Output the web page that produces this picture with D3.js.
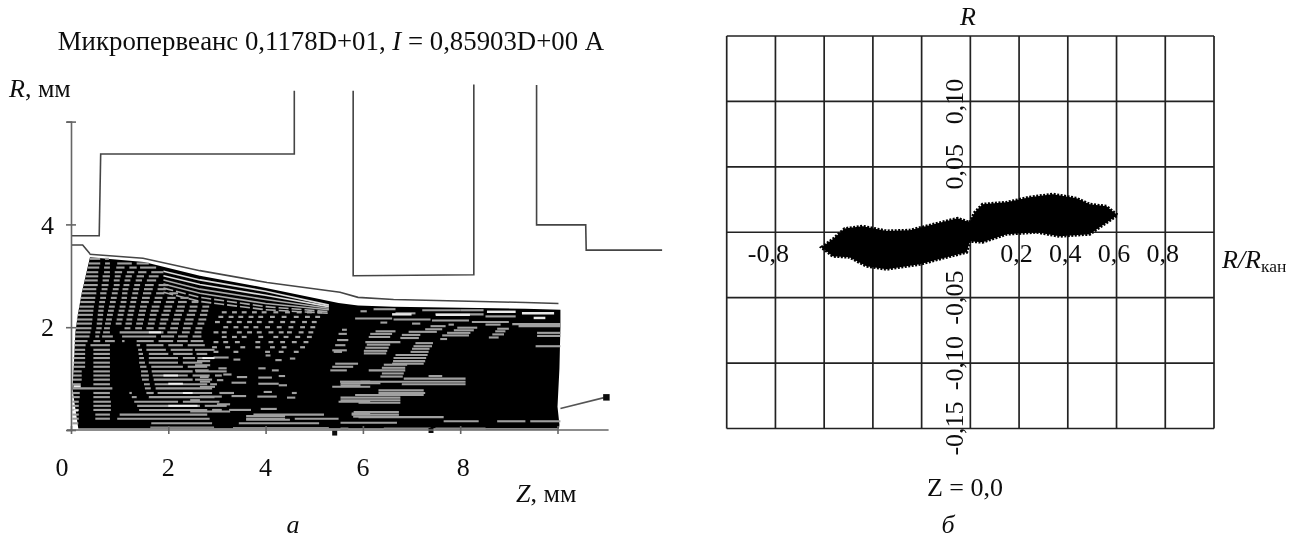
<!DOCTYPE html>
<html><head><meta charset="utf-8"><script src="https://cdn.jsdelivr.net/npm/d3@7"></script>
<style>html,body{margin:0;background:#fff}svg{display:block}text{font-family:"Liberation Serif",serif;fill:#111}</style></head>
<body><svg id="c" width="1296" height="538"><defs><filter id="soft" x="-5%" y="-5%" width="110%" height="110%"><feGaussianBlur stdDeviation="0.4"/></filter></defs></svg>
<script>
// ---- panel a: electrodes [z, R]
const focusElectrode=[[0,3.78],[.58,3.78],[.61,5.37],[4.59,5.37],[4.59,6.6]];
const cathodeEdge=[[0,3.6],[.24,3.6],[.39,3.43]];
const anodeElectrode=[[5.8,6.6],[5.8,3.0],[8.28,3.02],[8.28,6.72]];
const collectorElectrode=[[9.57,6.71],[9.57,3.99],[10.58,3.99],[10.59,3.5],[12.15,3.5]];
const beamOuter=[[.38,3.42],[1.48,3.34],[2.65,3.1],[4.03,2.87],[5.53,2.68],[5.9,2.58],[6.63,2.54],[9.34,2.48],[10.02,2.46]];
const beamMass=[[.15,.03],[.03,.8],[.06,1.3],[.09,1.9],[.14,2.24],[.22,2.66],[.3,2.99],[.39,3.36],[1.5,3.27],[2.65,3.0],[4.03,2.76],[5.5,2.47],[5.9,2.42],[6.63,2.4],[9.34,2.36],[10.06,2.34],[10.06,2.0],[10.04,1.2],[10.0,.45],[10.04,.1],[10.03,.03]];
const beamLead=[[10.06,.42],[11,.64]];
const leadMarker=[[11,.64]];
const stubs=[[5.42,-.05],[7.4,.0]];
const envelopeZ=[1.9,2.65,4.0,5.3];
const envelopeR=[[3.09,2.92,2.70,2.43],[3.0,2.83,2.62,2.40],[2.92,2.74,2.54,2.37],[2.84,2.66,2.46,2.34],[2.76,2.58,2.40,2.30],[2.68,2.5,2.34,2.27]];
// rows of lighter stripes in the fan: R, then z-intervals
const fanRows=[
[3.33,[[.39,.6],[.7,.78]]],
[3.24,[[.37,.6],[.7,.8],[.95,1.25],[1.35,1.6]]],
[3.16,[[.35,.58],[.68,.8],[.93,1.1],[1.2,1.35],[1.42,1.75]]],
[3.07,[[.32,.56],[.68,.8],[.9,1.05],[1.15,1.3],[1.38,1.55],[1.65,1.9]]],
[2.99,[[.3,.56],[.65,.8],[.9,1.02],[1.12,1.25],[1.35,1.5],[1.6,1.8]]],
[2.91,[[.28,.55],[.65,.78],[.88,1.0],[1.1,1.22],[1.33,1.46],[1.56,1.75]]],
[2.82,[[.26,.55],[.63,.77],[.88,1.0],[1.08,1.2],[1.3,1.42],[1.52,1.7],[1.8,2.0]]],
[2.74,[[.24,.52],[.63,.75],[.86,.98],[1.06,1.18],[1.28,1.4],[1.5,1.68],[1.78,1.95]]],
[2.66,[[.22,.52],[.6,.73],[.84,.96],[1.05,1.16],[1.26,1.38],[1.48,1.65],[1.75,1.92],[2.02,2.2]]],
[2.57,[[.2,.5],[.6,.72],[.82,.94],[1.04,1.15],[1.24,1.36],[1.46,1.62],[1.72,1.88],[1.98,2.15],[2.25,2.42]]],
[2.49,[[.19,.49],[.58,.7],[.8,.92],[1.02,1.14],[1.22,1.34],[1.44,1.6],[1.7,1.85],[1.95,2.12],[2.2,2.38],[2.48,2.62]]],
[2.40,[[.17,.47],[.57,.68],[.78,.9],[1.0,1.12],[1.2,1.32],[1.42,1.56],[1.66,1.82],[1.92,2.08],[2.18,2.34],[2.44,2.6],[2.7,2.84]]],
[2.32,[[.15,.46],[.56,.67],[.76,.88],[.98,1.1],[1.18,1.3],[1.4,1.54],[1.64,1.8],[1.9,2.05],[2.15,2.32],[2.42,2.58],[2.68,2.82]]],
[2.24,[[.14,.45],[.55,.66],[.74,.86],[.96,1.08],[1.16,1.28],[1.38,1.52],[1.62,1.76],[1.86,2.02],[2.12,2.28],[2.38,2.55],[2.65,2.8]]],
[2.15,[[.12,.44],[.54,.65],[.72,.84],[.94,1.06],[1.14,1.26],[1.36,1.5],[1.6,1.74],[1.84,2.0],[2.1,2.25],[2.35,2.52],[2.62,2.78]]],
[2.07,[[.11,.43],[.53,.64],[.7,.82],[.92,1.04],[1.12,1.25],[1.34,1.48],[1.58,1.72],[1.82,1.96],[2.06,2.22],[2.32,2.5],[2.6,2.74]]],
[1.98,[[.1,.42],[.52,.63],[.68,.8],[1.1,1.22],[1.32,1.46],[1.55,1.7],[1.8,1.94],[2.04,2.2],[2.3,2.46],[2.56,2.7]]],
[1.90,[[.09,.4],[.5,.6],[.66,.8],[1.0,1.9],[1.98,2.18],[2.28,2.44],[2.54,2.68]]],
[1.82,[[.08,.38],[.5,.58],[.64,.86],[1.05,1.75],[1.85,2.12],[2.2,2.4],[2.5,2.68]]],
[1.73,[[.07,.34],[.46,.6],[.7,.9],[1.05,1.1],[1.35,1.7],[1.8,2.1],[2.18,2.4],[2.46,2.72]]],
[1.65,[[.07,.3],[.4,.8],[1.35,1.42],[1.55,1.9],[2.0,2.3],[2.4,2.75]]],
[1.56,[[.06,.29],[.46,.8],[1.38,1.46],[1.55,1.95],[2.05,2.5],[2.55,2.95]]],
[1.48,[[.06,.29],[.46,.8],[1.39,1.48],[1.6,2.0],[2.1,2.5],[2.58,2.8]]],
[1.40,[[.05,.29],[.46,.8],[1.4,1.5],[1.6,2.2],[2.3,2.55],[2.6,2.75]]],
[1.31,[[.05,.29],[.46,.8],[1.4,1.52],[1.6,2.2],[2.3,2.7]]],
[1.23,[[.05,.29],[.46,.8],[1.42,1.55],[1.65,2.3],[2.4,2.8]]],
[1.14,[[.04,.22],[.46,.8],[1.44,1.58],[1.66,2.5],[2.56,3.2]]],
[1.06,[[.04,.22],[.46,.8],[1.44,1.6],[1.68,2.4],[2.5,2.85],[2.96,3.1]]],
[.98,[[.04,.22],[.46,.8],[1.46,1.6],[1.7,2.5],[2.55,2.9]]],
[.89,[[.04,.2],[.46,.8],[1.5,1.62],[1.72,2.8],[2.86,3.0]]],
[.81,[[.04,.85],[1.52,1.64],[1.74,2.9]]],
[.72,[[.03,.18],[.46,.8],[1.2,1.25],[1.55,1.7],[1.78,2.9],[3.05,3.35]]],
[.64,[[.03,.18],[.46,.8],[1.25,1.35],[1.6,2.95]]],
[.55,[[.03,.16],[.46,.82],[1.3,2.2],[2.3,3.05]]],
[.47,[[.03,.16],[.46,.82],[1.36,2.65],[2.75,3.2]]],
[.39,[[.03,.16],[.46,.82],[1.4,2.8],[2.9,3.1],[3.25,3.7]]],
[.30,[[.03,.16],[.5,.8],[1.0,2.8],[3.75,5.2]]],
[.22,[[.03,.16],[.5,.8],[.95,2.85],[3.6,4.4],[4.6,5.5]]],
[.13,[[.03,.15],[1.65,2.9],[3.45,5.1]]]
];
// bright strokes among the stripes
const brightRows=[[1.90,[[1.6,1.85]]],[1.40,[[2.7,2.95]]],[1.06,[[1.9,2.2]]],[.90,[[2.0,2.3]]],[.72,[[2.3,2.5]]],[.47,[[2.0,2.6]]],[.85,[[.05,.2]]],[.38,[[.05,.15]]]];
// dots between the crossings
const dotRowR=[2.29,2.20,2.10,2.0,1.90,1.81,1.71,1.61,1.52];
const dotRowZ=[
[3.10,3.31,3.51,3.72,3.92,4.16,4.40,4.64,4.85,5.06],
[3.03,3.24,3.44,3.65,3.85,4.09,4.33,4.58,4.81,5.02],
[2.96,3.20,3.41,3.62,3.82,4.06,4.30,4.51,4.75,4.95],
[3.13,3.34,3.55,3.75,3.99,4.23,4.47,4.71,4.92],
[2.93,3.10,3.41,3.62,3.82,4.06,4.27,4.44,4.68,4.88],
[3.10,3.31,3.51,3.85,4.16,4.37,4.61,4.85],
[2.93,3.13,3.37,3.79,4.06,4.30,4.54,4.78],
[2.90,3.17,3.48,3.79,4.09,4.33,4.71],
[2.93,3.34,3.99,4.27,4.58]];
// middle and right blocks: [z1, z2, R]
const midStripes=[[3.6,4.5,.2],[3.6,4.4,.27],[3.9,4.23,.41],[2.45,3.27,.36],[3.0,3.27,.5],[2.45,2.65,.58],[2.65,3.1,.65],[3.3,3.6,.66],[3.83,4.23,.65],[3.96,4.13,.74],[3.3,3.6,.92],[3.41,3.62,1.03],[3.85,4.13,1.02],[4.27,4.4,1.05],[3.85,4.27,.9],[4.27,4.44,.87],[2.65,2.96,.84],[2.65,2.86,.94],[2.65,2.83,1.03],[2.55,2.83,1.16],[2.55,2.86,1.26],[2.59,2.86,1.34],[2.93,3.24,1.41],[3.34,3.48,1.37],[3.85,4.0,1.2],[4.13,4.27,1.16],[4.2,4.33,1.36],[4.5,4.61,1.39],[4.0,4.1,1.45],[3.03,3.2,1.2],[3.13,3.3,1.08],[3.0,3.13,.97],[4.44,4.61,.63],[4.54,4.64,.72],[5.33,5.67,1.16],[5.37,5.8,1.23],[5.43,5.9,1.29],[5.37,5.67,1.55],[5.4,5.57,1.52],[5.43,5.64,1.65],[5.47,5.7,1.75],[5.5,5.67,1.87],[5.57,5.67,1.95],[5.37,6.15,.84],[5.53,6.15,.94],[5.5,6.15,.55],[5.77,6.15,.32],[5.8,6.15,.26]];
const rightStripes=[[6.26,6.67,1.92],[6.15,6.6,1.87],[6.12,6.56,1.81],[6.05,6.77,1.71],[6.08,6.56,1.66],[6.05,6.53,1.60],[6.02,6.5,1.54],[6.02,6.48,1.49],[7.39,7.7,2.02],[7.28,7.63,1.96],[6.94,7.52,1.91],[6.8,7.18,1.85],[6.77,7.15,1.79],[7.08,7.44,1.69],[7.04,7.42,1.63],[7.01,7.37,1.58],[6.98,7.35,1.52],[6.67,7.33,1.46],[6.63,7.3,1.40],[6.62,7.28,1.34],[6.6,7.25,1.29],[6.43,6.91,1.27],[6.39,6.87,1.21],[6.12,6.87,1.16],[6.39,6.84,1.10],[6.36,6.82,1.04],[7.35,7.63,1.05],[6.84,8.11,1.0],[5.95,8.11,.94],[5.54,6.36,.91],[6.8,8.11,.89],[5.54,5.95,.87],[6.32,7.25,.77],[6.32,7.28,.72],[5.84,7.25,.68],[5.54,6.77,.63],[5.54,6.77,.58],[5.91,6.77,.53],[5.81,6.74,.35],[5.77,6.74,.30],[5.91,7.66,.25],[5.54,6.7,.14],[7.66,8.38,.17],[8.76,9.34,.17],[9.44,10.06,.17],[7.94,8.35,1.99],[7.87,8.28,1.94],[7.73,8.21,1.89],[7.63,8.18,1.84],[7.59,7.73,1.77],[8.76,9.0,1.97],[8.72,8.93,1.92],[8.66,8.9,1.86],[8.59,8.79,1.80],[9.58,10.06,1.89],[9.58,10.06,1.83],[9.55,10.06,1.63],[9.2,10.06,2.02],[9.07,10.06,2.06],[5.84,6.6,2.17],[6.63,7.39,2.15],[7.42,8.18,2.13],[8.24,9.0,2.10],[6.36,6.5,2.09],[7.01,7.18,2.07],[8.52,8.83,2.05],[7.76,7.87,2.05],[6.22,6.67,2.35],[5.95,6.08,2.31],[6.67,7.08,2.27],[7.22,8.0,2.33],[7.49,8.48,2.25],[8.52,9.14,2.21],[8.0,8.48,2.33]];
const bottomStripes=[[1.63,2.94,.05],[3.33,5.3,.04],[5.54,5.7,.03],[6.43,7.39,.03],[7.49,8.52,.03],[8.52,10.0,.02]];
const brightStripes=[[8.55,9.14,2.3],[9.27,9.93,2.27],[9.51,9.75,2.18],[6.6,7.0,2.25],[7.5,8.2,2.24]];
// ---- axes of panel a
const zTicks=[0,2,4,6,8,10];
const rTicks=[0,2,4,6];
const zLabels=["0","2","4","6","8"];
// ---- panel b
const gridX=d3.range(-1,1.01,.2);
const gridY=[-.15,-.10,-.05,0,.05,.10,.15];
const xLabelValues=[-.8,.2,.4,.6,.8];
const xLabelTexts=["-0,8","0,2","0,4","0,6","0,8"];
const yLabelValues=[.10,.05,-.05,-.10,-.15];
const yLabelTexts=["0,10","0,05","-0,05","-0,10","-0,15"];
const spot=[[-.611,-.0115],[-.565,-.0054],[-.516,.0028],[-.442,.0046],[-.344,.0010],[-.249,.0015],[-.179,.0048],[-.097,.0086],[-.052,.0107],[-.003,.0076],[.018,.0153],[.050,.0214],[.149,.0229],[.243,.0268],[.338,.0291],[.436,.0260],[.490,.0214],[.559,.0199],[.604,.0130],[.531,.0038],[.490,-.0015],[.366,-.0031],[.272,0],[.149,-.0015],[.050,-.0076],[-.003,-.0069],[-.015,-.0153],[-.097,-.0191],[-.208,-.0245],[-.344,-.0283],[-.426,-.0260],[-.496,-.0191],[-.565,-.0183]];

const FS=26;
const svg=d3.select("#c");
const z=d3.scaleLinear([0,10],[71,557.5]);
const r=d3.scaleLinear([0,6],[430,121.6]);
const ln=d3.line(d=>z(d[0]),d=>r(d[1]));
const A=svg.append("g").attr("filter","url(#soft)");
[focusElectrode,cathodeEdge,anodeElectrode,collectorElectrode].forEach(d=>A.append("path").attr("d",ln(d)).attr("fill","none").attr("stroke","#444").attr("stroke-width",1.6));
A.append("path").attr("d",ln(beamMass)+"Z").attr("fill","#040404");
A.append("path").attr("d",ln(beamOuter)).attr("fill","none").attr("stroke","#444").attr("stroke-width",1.6);
envelopeR.forEach((row,i)=>A.append("path").datum(row).attr("d",ln(row.map((v,j)=>[envelopeZ[j],v]))).attr("fill","none").attr("stroke",i<2?"#ddd":"#aaa").attr("stroke-width",1.6).attr("stroke-dasharray",i<4?null:"10 3"));
const seg=(list,col,w)=>A.append("g").selectAll("line").data(list).join("line").attr("x1",d=>z(d[0])).attr("x2",d=>z(d[1])).attr("y1",d=>r(d[2])).attr("y2",d=>r(d[2])).attr("stroke",col).attr("stroke-width",w);
seg(fanRows.flatMap(([R,iv])=>iv.map(q=>[q[0],q[1],R])),"#a0a0a0",2.1);
seg(midStripes,"#a0a0a0",2.1);
seg(rightStripes,"#a0a0a0",2.1);
seg(bottomStripes,"#8a8a8a",2);
seg(brightRows.flatMap(([R,iv])=>iv.map(q=>[q[0],q[1],R])),"#eee",2);
seg(brightStripes,"#e8e8e8",2.4);
seg(dotRowR.flatMap((R,i)=>dotRowZ[i].map(v=>[v,v+.1,R])),"#a5a5a5",2.2);
A.append("path").attr("d",ln(beamLead)).attr("stroke","#555").attr("stroke-width",1.6).attr("fill","none");
A.selectAll("rect.m").data(leadMarker).join("rect").attr("class","m").attr("x",d=>z(d[0])-3).attr("y",d=>r(d[1])-3).attr("width",6.5).attr("height",6.5).attr("fill","#111");
A.selectAll("rect.s").data(stubs).join("rect").attr("class","s").attr("x",d=>z(d[0])-2.5).attr("y",d=>r(d[1])-2).attr("width",5).attr("height",5).attr("fill","#111");
const ax=A.append("g").attr("transform","translate(0,430)").call(d3.axisBottom(z).tickValues(zTicks).tickSize(4).tickFormat(""));
ax.select(".domain").attr("d",`M${z(0)-4},0H${z(11.05)}`);
ax.selectAll("line").attr("y1",-4);
ax.selectAll("line,.domain").attr("stroke","#666").attr("stroke-width",1.6);
const ay=A.append("g").attr("transform","translate(71,0)").call(d3.axisLeft(r).tickValues(rTicks).tickSize(4).tickFormat(""));
ay.selectAll("line").attr("x2",-5).attr("x1",5);
ay.selectAll("line,.domain").attr("stroke","#666").attr("stroke-width",1.6);
const T=(g,x,y,s,fs)=>g.append("text").attr("x",x).attr("y",y).attr("font-size",fs||FS).attr("text-anchor","middle").text(s);
zLabels.forEach((s,i)=>T(A,i==0?62:z(i*2)+(i==4?3:0),476,s));
T(A,47.5,234,"4");T(A,47.5,336,"2");
const tt=T(A,331,50,"",26.8);
tt.append("tspan").text("Микропервеанс 0,1178D+01, ");
tt.append("tspan").attr("font-style","italic").text("I");
tt.append("tspan").text(" = 0,85903D+00 А");
const rm=A.append("text").attr("x",9).attr("y",97).attr("font-size",FS);
rm.append("tspan").attr("font-style","italic").text("R");rm.append("tspan").text(", мм");
const zm=A.append("text").attr("x",516).attr("y",502).attr("font-size",FS);
zm.append("tspan").attr("font-style","italic").text("Z");zm.append("tspan").text(", мм");
T(A,293,533,"а",FS).attr("font-style","italic");

const x2=d3.scaleLinear([-1,1],[726.7,1214]);
const y2=d3.scaleLinear([-.15,.15],[428.5,36]);
const B=svg.append("g").attr("filter","url(#soft)");
B.append("g").selectAll("line").data(gridX).join("line").attr("x1",d=>x2(d)).attr("x2",d=>x2(d)).attr("y1",y2(.15)).attr("y2",y2(-.15)).attr("stroke","#222").attr("stroke-width",1.7);
B.append("g").selectAll("line").data(gridY).join("line").attr("y1",d=>y2(d)).attr("y2",d=>y2(d)).attr("x1",x2(-1)).attr("x2",x2(1)).attr("stroke","#222").attr("stroke-width",1.7);
B.append("path").attr("d",d3.line(d=>x2(d[0]),d=>y2(d[1]))(spot)+"Z").attr("fill","#040404").attr("stroke","#040404").attr("stroke-width",3).attr("stroke-dasharray","2 1.5");
xLabelValues.forEach((v,i)=>T(B,x2(v)+(i==0?-7:-2.5),262,xLabelTexts[i]));
yLabelValues.forEach((v,i)=>B.append("text").attr("transform",`translate(963,${y2(v)}) rotate(-90)`).attr("text-anchor","middle").attr("font-size",FS).text(yLabelTexts[i]));
T(B,968,25,"R",FS).attr("font-style","italic");
T(B,965,496,"Z = 0,0",FS);
T(B,948,533,"б",FS).attr("font-style","italic");
const rr=B.append("text").attr("x",1222).attr("y",268).attr("font-size",FS);
rr.append("tspan").attr("font-style","italic").text("R/R");
rr.append("tspan").attr("font-size",17.5).attr("dy",4).text("кан");
</script></body></html>
